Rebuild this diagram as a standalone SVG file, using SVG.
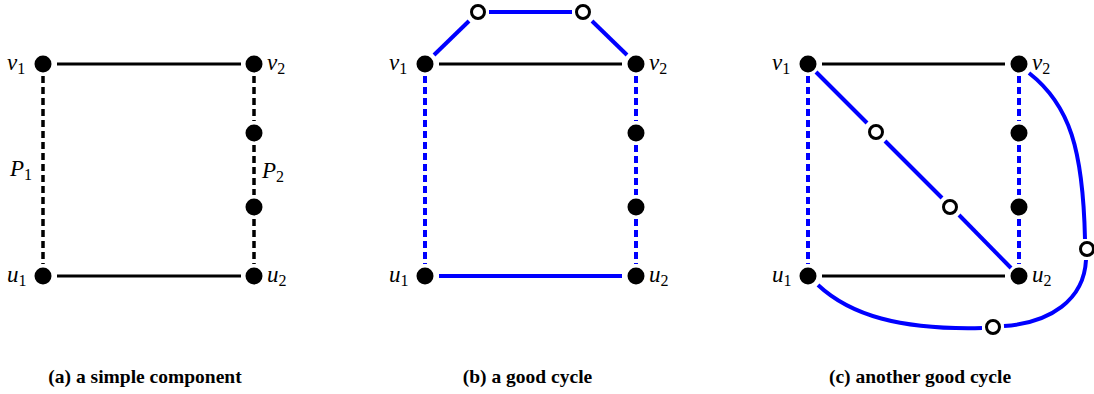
<svg xmlns="http://www.w3.org/2000/svg" width="1094" height="394" viewBox="0 0 1094 394">
<style>
.bg{fill:#fff}
.k{stroke:#000;stroke-width:3;fill:none}
.kd{stroke:#000;stroke-width:3.5;fill:none;stroke-dasharray:7 4}
.b{stroke:#0000ff;stroke-width:4;fill:none}
.bd{stroke:#0000ff;stroke-width:4;fill:none;stroke-dasharray:7 4}
.n{fill:#000}
.o{fill:#fff;stroke:#000;stroke-width:3}
.m{font-family:"Liberation Serif",serif;font-style:italic;font-size:23px;fill:#000}
.s{font-family:"Liberation Serif",serif;font-style:normal;font-size:16px}
.cap{font-family:"Liberation Serif",serif;font-weight:bold;font-size:19.5px;fill:#000;text-anchor:middle}
</style>
<rect class="bg" x="0" y="0" width="1094" height="394"/>
<g id="connectors">
<!-- panel a -->
<line class="k" x1="57" y1="64" x2="241" y2="64"/>
<line class="k" x1="57" y1="276" x2="241" y2="276"/>
<line class="kd" x1="43" y1="76" x2="43" y2="264"/>
<line class="kd" x1="254" y1="76" x2="254" y2="121"/>
<line class="kd" x1="254" y1="145" x2="254" y2="195"/>
<line class="kd" x1="254" y1="219" x2="254" y2="264"/>
<!-- panel b -->
<line class="k" x1="439" y1="64" x2="622" y2="64"/>
<line class="b" x1="439" y1="276" x2="622" y2="276"/>
<line class="bd" x1="425" y1="76" x2="425" y2="264"/>
<line class="bd" x1="636" y1="76" x2="636" y2="121"/>
<line class="bd" x1="636" y1="145" x2="636" y2="195"/>
<line class="bd" x1="636" y1="219" x2="636" y2="264"/>
<line class="b" x1="434" y1="55" x2="469" y2="21"/>
<line class="b" x1="489" y1="12" x2="572" y2="12"/>
<line class="b" x1="592" y1="21" x2="627" y2="55"/>
<!-- panel c -->
<line class="k" x1="822" y1="64" x2="1005" y2="64"/>
<line class="k" x1="822" y1="276" x2="1005" y2="276"/>
<line class="bd" x1="808" y1="76" x2="808" y2="264"/>
<line class="bd" x1="1019" y1="76" x2="1019" y2="121"/>
<line class="bd" x1="1019" y1="145" x2="1019" y2="195"/>
<line class="bd" x1="1019" y1="219" x2="1019" y2="264"/>
<line class="b" x1="816" y1="72" x2="867" y2="123"/>
<line class="b" x1="885" y1="141" x2="942" y2="198"/>
<line class="b" x1="959" y1="215" x2="1011" y2="268"/>
<path class="b" d="M1029,73 C1070,105 1083,150 1085,239"/>
<path class="b" d="M1086,260 C1084,300 1050,323 1004,326"/>
<path class="b" d="M982,328 C900,330 850,315 818,285"/>
</g>
<g id="panel-a">
<g id="a-v1"><circle class="n" cx="43" cy="64" r="8.5"/><text class="m" x="7" y="70">v<tspan class="s" dy="4">1</tspan></text></g>
<g id="a-v2"><circle class="n" cx="254" cy="64" r="8.5"/><text class="m" x="267" y="70">v<tspan class="s" dy="4">2</tspan></text></g>
<g id="a-u1"><circle class="n" cx="43" cy="276" r="8.5"/><text class="m" x="7" y="282">u<tspan class="s" dy="4">1</tspan></text></g>
<g id="a-u2"><circle class="n" cx="254" cy="276" r="8.5"/><text class="m" x="267" y="282">u<tspan class="s" dy="4">2</tspan></text></g>
<g id="a-p1"><circle class="n" cx="254" cy="133" r="8.5"/></g>
<g id="a-p2"><circle class="n" cx="254" cy="207" r="8.5"/></g>
<g id="a-P1"><text class="m" x="10" y="176">P<tspan class="s" dy="4">1</tspan></text></g>
<g id="a-P2"><text class="m" x="262" y="178">P<tspan class="s" dy="4">2</tspan></text></g>
</g>
<g id="panel-b">
<g id="b-v1"><circle class="n" cx="425" cy="64" r="8.5"/><text class="m" x="389" y="70">v<tspan class="s" dy="4">1</tspan></text></g>
<g id="b-v2"><circle class="n" cx="636" cy="64" r="8.5"/><text class="m" x="649" y="70">v<tspan class="s" dy="4">2</tspan></text></g>
<g id="b-u1"><circle class="n" cx="425" cy="276" r="8.5"/><text class="m" x="389" y="282">u<tspan class="s" dy="4">1</tspan></text></g>
<g id="b-u2"><circle class="n" cx="636" cy="276" r="8.5"/><text class="m" x="649" y="282">u<tspan class="s" dy="4">2</tspan></text></g>
<g id="b-p1"><circle class="n" cx="636" cy="133" r="8.5"/></g>
<g id="b-p2"><circle class="n" cx="636" cy="207" r="8.5"/></g>
<g id="b-o1"><circle class="o" cx="478" cy="12" r="6.5"/></g>
<g id="b-o2"><circle class="o" cx="583" cy="12" r="6.5"/></g>
</g>
<g id="panel-c">
<g id="c-v1"><circle class="n" cx="808" cy="64" r="8.5"/><text class="m" x="772" y="70">v<tspan class="s" dy="4">1</tspan></text></g>
<g id="c-v2"><circle class="n" cx="1019" cy="64" r="8.5"/><text class="m" x="1032" y="70">v<tspan class="s" dy="4">2</tspan></text></g>
<g id="c-u1"><circle class="n" cx="808" cy="276" r="8.5"/><text class="m" x="772" y="282">u<tspan class="s" dy="4">1</tspan></text></g>
<g id="c-u2"><circle class="n" cx="1019" cy="276" r="8.5"/><text class="m" x="1032" y="282">u<tspan class="s" dy="4">2</tspan></text></g>
<g id="c-p1"><circle class="n" cx="1019" cy="133" r="8.5"/></g>
<g id="c-p2"><circle class="n" cx="1019" cy="207" r="8.5"/></g>
<g id="c-o1"><circle class="o" cx="876" cy="132" r="6.5"/></g>
<g id="c-o2"><circle class="o" cx="950" cy="207" r="6.5"/></g>
<g id="c-o3"><circle class="o" cx="1087" cy="249" r="6.5"/></g>
<g id="c-o4"><circle class="o" cx="993" cy="327" r="6.5"/></g>
</g>
<g id="captions">
<text class="cap" x="145" y="383">(a) a simple component</text>
<text class="cap" x="527.5" y="383">(b) a good cycle</text>
<text class="cap" x="920" y="383">(c) another good cycle</text>
</g>
</svg>
